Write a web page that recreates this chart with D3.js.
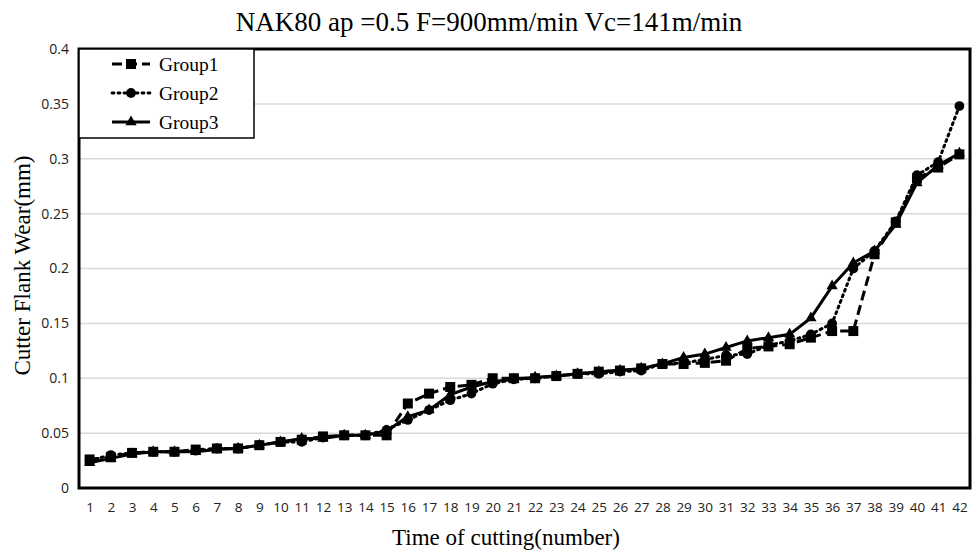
<!DOCTYPE html>
<html>
<head>
<meta charset="utf-8">
<script src="https://cdn.jsdelivr.net/npm/d3@7"></script>
<style>
  body { margin: 0; background: #fff; }
</style>
</head>
<body>
<div id="chart"></div>
<script>
// data
var times = d3.range(1, 43);
var group1 = [0.026, 0.028, 0.032, 0.033, 0.033, 0.035, 0.036, 0.036, 0.039, 0.042,
  0.044, 0.047, 0.048, 0.048, 0.048, 0.077, 0.086, 0.092, 0.094, 0.100,
  0.100, 0.100, 0.102, 0.104, 0.106, 0.107, 0.109, 0.113, 0.113, 0.114,
  0.116, 0.127, 0.129, 0.131, 0.137, 0.143, 0.143, 0.213, 0.242, 0.282,
  0.292, 0.304];
var group2 = [0.025, 0.030, 0.032, 0.033, 0.033, 0.034, 0.036, 0.036, 0.039, 0.042,
  0.042, 0.046, 0.048, 0.048, 0.053, 0.062, 0.071, 0.080, 0.086, 0.095,
  0.099, 0.100, 0.102, 0.104, 0.104, 0.106, 0.107, 0.113, 0.114, 0.117,
  0.121, 0.122, 0.130, 0.134, 0.140, 0.150, 0.200, 0.216, 0.243, 0.285,
  0.297, 0.348];
var group3 = [0.023, 0.027, 0.031, 0.033, 0.033, 0.033, 0.035, 0.036, 0.039, 0.042,
  0.045, 0.045, 0.048, 0.048, 0.052, 0.065, 0.071, 0.085, 0.092, 0.097,
  0.099, 0.101, 0.102, 0.104, 0.106, 0.107, 0.109, 0.113, 0.119, 0.122,
  0.128, 0.134, 0.137, 0.140, 0.155, 0.184, 0.205, 0.216, 0.240, 0.278,
  0.294, 0.305];
var seriesNames = ["Group1", "Group2", "Group3"];
var yTicks = [0, 0.05, 0.1, 0.15, 0.2, 0.25, 0.3, 0.35, 0.4];

var series = [
  {name: seriesNames[0], values: group1, dash: "10,5", symbol: d3.symbolSquare, size: 100},
  {name: seriesNames[1], values: group2, dash: "2,4", symbol: d3.symbolCircle, size: 75},
  {name: seriesNames[2], values: group3, dash: null, symbol: d3.symbolTriangle, size: 55}
];

// set the dimensions and margins of the graph
var W = 979, H = 550;
var margin = {top: 49, right: 9, bottom: 62, left: 79},
  width = W - margin.left - margin.right,
  height = H - margin.top - margin.bottom;

var root = d3.select("#chart")
.append("svg")
  .attr("width", W)
  .attr("height", H);

var svg = root.append("g")
  .attr("transform", "translate(" + margin.left + "," + margin.top + ")");

var x = d3.scalePoint()
  .domain(times)
  .range([0, width])
  .padding(0.5);

var y = d3.scaleLinear()
  .domain([0, 0.4])
  .range([height, 0]);

// grid lines
svg.append("g")
  .selectAll("line")
  .data(yTicks.slice(1, -1))
  .enter()
  .append("line")
  .attr("x1", 0)
  .attr("x2", width)
  .attr("y1", function(d) { return y(d); })
  .attr("y2", function(d) { return y(d); })
  .style("stroke", "#d9d9d9")
  .style("stroke-width", 1.5);

// Y axis
var yAxis = svg.append("g")
  .call(d3.axisLeft(y).tickValues(yTicks).tickFormat(d3.format("")).tickSize(0).tickPadding(10));
yAxis.select(".domain").remove();
yAxis.selectAll("text")
  .style("font-family", "'Open Sans', sans-serif")
  .style("font-size", "14px")
  .style("fill", "#222");

// X axis
var xAxis = svg.append("g")
  .attr("transform", "translate(0," + height + ")")
  .call(d3.axisBottom(x).tickSize(0).tickPadding(14));
xAxis.select(".domain").remove();
xAxis.selectAll("text")
  .style("font-family", "'Open Sans', sans-serif")
  .style("font-size", "13.5px")
  .style("fill", "#222");

// lines and markers
var line = d3.line()
  .x(function(d, i) { return x(times[i]); })
  .y(function(d) { return y(d); });

series.forEach(function(s) {
  svg.append("path")
    .datum(s.values)
    .attr("d", line)
    .style("fill", "none")
    .style("stroke", "#000")
    .style("stroke-width", 3)
    .style("stroke-dasharray", s.dash)
    .style("stroke-linecap", s.dash === "2,4" ? "round" : "butt");

  svg.append("g")
    .selectAll("path")
    .data(s.values)
    .enter()
    .append("path")
    .attr("d", d3.symbol().type(s.symbol).size(s.size))
    .attr("transform", function(d, i) { return "translate(" + x(times[i]) + "," + y(d) + ")"; })
    .style("fill", "#000");
});

// plot frame
svg.append("rect")
  .attr("x", 0)
  .attr("y", 0)
  .attr("width", width)
  .attr("height", height)
  .style("fill", "none")
  .style("stroke", "#000")
  .style("stroke-width", 3);

// legend
var legend = svg.append("g");
legend.append("rect")
  .attr("x", 0)
  .attr("y", 0)
  .attr("width", 175)
  .attr("height", 89)
  .style("fill", "#fff")
  .style("stroke", "#000")
  .style("stroke-width", 1.5);

series.forEach(function(s, i) {
  var ly = 15 + i * 29;
  legend.append("line")
    .attr("x1", 33).attr("x2", 71)
    .attr("y1", ly).attr("y2", ly)
    .style("stroke", "#000")
    .style("stroke-width", 2.8)
    .style("stroke-dasharray", s.dash)
    .style("stroke-linecap", s.dash === "2,4" ? "round" : "butt");
  legend.append("path")
    .attr("d", d3.symbol().type(s.symbol).size(s.size))
    .attr("transform", "translate(52," + ly + ")")
    .style("fill", "#000");
  legend.append("text")
    .attr("x", 80)
    .attr("y", ly)
    .attr("dy", "0.35em")
    .style("font-family", "'Liberation Serif', serif")
    .style("font-size", "19.5px")
    .text(s.name);
});

// title and axis labels
root.append("text")
  .attr("x", 489)
  .attr("y", 31)
  .attr("text-anchor", "middle")
  .style("font-family", "'Liberation Serif', serif")
  .style("font-size", "27px")
  .text("NAK80 ap =0.5 F=900mm/min Vc=141m/min");

root.append("text")
  .attr("transform", "translate(30," + (margin.top + height / 2 - 3) + ") rotate(-90)")
  .attr("text-anchor", "middle")
  .style("font-family", "'Liberation Serif', serif")
  .style("font-size", "23px")
  .text("Cutter Flank Wear(mm)");

root.append("text")
  .attr("x", 506)
  .attr("y", 545)
  .attr("text-anchor", "middle")
  .style("font-family", "'Liberation Serif', serif")
  .style("font-size", "23px")
  .text("Time of cutting(number)");
</script>
</body>
</html>
